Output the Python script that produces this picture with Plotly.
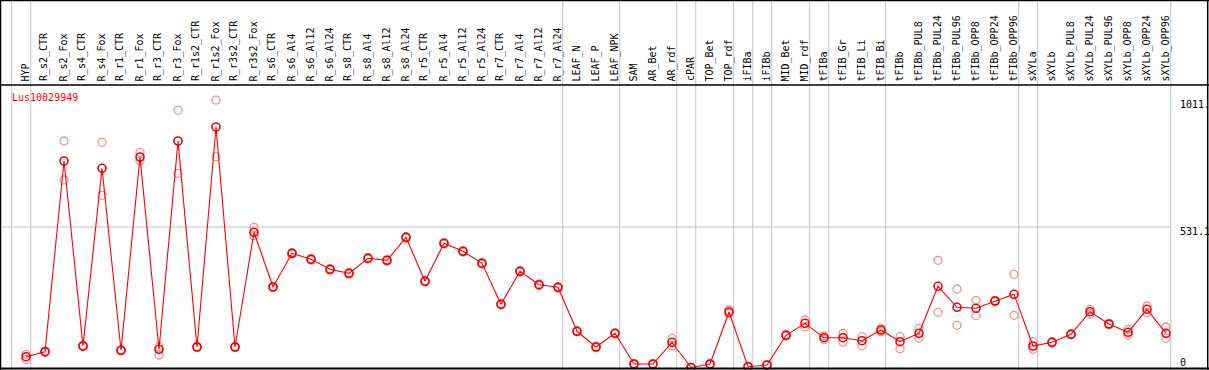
import plotly.graph_objects as go

gene_name = "Lus10029949"

samples = ["HYP", "R_s2_CTR", "R_s2_Fox", "R_s4_CTR", "R_s4_Fox", "R_r1_CTR", "R_r1_Fox",
           "R_r3_CTR", "R_r3_Fox", "R_r1s2_CTR", "R_r1s2_Fox", "R_r3s2_CTR", "R_r3s2_Fox",
           "R_s6_CTR", "R_s6_Al4", "R_s6_Al12", "R_s6_Al24", "R_s8_CTR", "R_s8_Al4", "R_s8_Al12",
           "R_s8_Al24", "R_r5_CTR", "R_r5_Al4", "R_r5_Al12", "R_r5_Al24", "R_r7_CTR", "R_r7_Al4",
           "R_r7_Al12", "R_r7_Al24", "LEAF_N", "LEAF_P", "LEAF_NPK", "SAM", "AR_Bet", "AR_rdf",
           "cPAR", "TOP_Bet", "TOP_rdf", "iFIBa", "iFIBb", "MID_Bet", "MID_rdf", "tFIBa",
           "tFIB_Gr", "tFIB_Li", "tFIB_Bi", "tFIBb", "tFIBb_PUL8", "tFIBb_PUL24", "tFIBb_PUL96",
           "tFIBb_OPP8", "tFIBb_OPP24", "tFIBb_OPP96", "sXYLa", "sXYLb", "sXYLb_PUL8",
           "sXYLb_PUL24", "sXYLb_PUL96", "sXYLb_OPP8", "sXYLb_OPP24", "sXYLb_OPP96"]

mean_values = [40.8, 59.7, 780.7, 81.3, 753.1, 65.0, 795.8, 68.8, 856.3, 77.5, 909.3, 77.5, 511.2,
               304.3, 431.8, 409.1, 371.3, 356.1, 412.9, 405.3, 492.2, 325.9, 469.6, 439.3, 394.0,
               238.9, 363.7, 313.0, 303.2, 136.9, 77.5, 129.3, 13.2, 13.2, 95.3, 0.0, 13.2, 209.8,
               3.0, 9.5, 121.7, 167.1, 112.7, 112.7, 101.3, 141.8, 97.5, 129.3, 307.0, 227.6,
               223.8, 251.4, 276.7, 81.3, 95.3, 125.5, 211.0, 164.5, 133.1, 220.0, 129.3]

rep1_values = [49.9, 57.0, 856.3, 79.0, 851.4, 63.0, 813.6, 78.6, 972.4, 75.0, 1011.0, 75.0, 530.1,
               302.0, 429.0, 406.0, 368.0, 353.0, 410.0, 402.0, 489.0, 323.0, 467.0, 436.0, 391.0,
               236.0, 361.0, 310.0, 300.0, 135.0, 75.0, 127.0, 11.0, 11.0, 110.4, 0.0, 11.0, 217.4,
               2.0, 8.0, 119.0, 179.6, 119.0, 129.3, 116.4, 148.2, 116.4, 148.2, 405.3, 296.8,
               254.1, 249.0, 352.4, 97.5, 93.0, 123.0, 220.0, 162.0, 144.4, 232.5, 153.1]

rep2_values = [31.0, 62.0, 708.9, 84.0, 651.0, 67.0, 781.9, 47.3, 734.2, 80.0, 797.0, 80.0, 498.3,
               307.0, 434.0, 412.0, 374.0, 359.0, 416.0, 408.0, 495.0, 329.0, 472.0, 442.0, 397.0,
               242.0, 366.0, 316.0, 306.0, 139.0, 80.0, 131.0, 15.0, 15.0, 81.3, 0.0, 15.0, 204.9,
               4.0, 11.0, 124.0, 154.3, 106.0, 96.0, 82.4, 135.4, 71.1, 110.4, 208.7, 159.5,
               195.8, 254.0, 197.4, 68.8, 98.0, 128.0, 202.3, 167.0, 122.9, 207.2, 110.4]

# index of last sample in each group (separator drawn after it); -1 = before first
group_ends = [-1, 0, 28, 31, 34, 35, 37, 38, 39, 41, 42, 45, 52, 53, 60]

axis_tick_values = [0, 531.1, 1011]
axis_tick_labels = ["0", "531.1", "1011."]
grid_values = [531.1]

W, H = 1209, 370
HEADER_PX = 85
X0_PX, DX_PX = 26, 19          # pixel of first sample, spacing
Y0_PX, SY = 367.5, 0.2645      # pixel of value 0, px per unit

x_idx = list(range(len(samples)))
x_range = [-X0_PX / DX_PX, (W - X0_PX) / DX_PX]
y_range = [(Y0_PX - H) / SY, Y0_PX / SY]

MONO = "DejaVu Sans Mono"

fig = go.Figure()

# replicates
rep_x = x_idx + x_idx
rep_y = rep1_values + rep2_values
fig.add_trace(go.Scatter(
    x=rep_x, y=rep_y, mode="markers",
    marker=dict(symbol="circle-open", size=8, color="#f09090", line=dict(width=1.3)),
    hoverinfo="skip", showlegend=False))

# mean line + markers
fig.add_trace(go.Scatter(
    x=x_idx, y=mean_values, mode="lines+markers",
    line=dict(color="#ff0000", width=1.1),
    marker=dict(symbol="circle-open", size=8, color="#f00000", line=dict(width=1.6)),
    text=samples, showlegend=False))

shapes = []
# gray group separators (full height)
for k in group_ends:
    xs = k + 0.25
    shapes.append(dict(type="line", xref="x", yref="paper", x0=xs, x1=xs, y0=0, y1=1,
                       line=dict(color="#c4c4c4", width=1), layer="below"))
# horizontal grid lines
x_right = 60.25
for gv in grid_values:
    shapes.append(dict(type="line", xref="x", yref="y", x0=x_range[0], x1=x_right, y0=gv, y1=gv,
                       line=dict(color="#c4c4c4", width=1), layer="below"))
# header separator
hy = 1 - HEADER_PX / H
shapes.append(dict(type="line", xref="paper", yref="paper", x0=0, x1=1, y0=hy, y1=hy,
                   line=dict(color="black", width=1.5)))
# outer border
shapes.append(dict(type="line", xref="paper", yref="paper", x0=0, x1=1, y0=1 - 0.5 / H, y1=1 - 0.5 / H,
                   line=dict(color="black", width=1.5)))
shapes.append(dict(type="line", xref="paper", yref="paper", x0=0, x1=1, y0=1.5 / H, y1=1.5 / H,
                   line=dict(color="black", width=2)))
shapes.append(dict(type="line", xref="paper", yref="paper", x0=0.5 / W, x1=0.5 / W, y0=0, y1=1,
                   line=dict(color="black", width=1.5)))
shapes.append(dict(type="line", xref="paper", yref="paper", x0=1207.7 / W, x1=1207.7 / W, y0=0, y1=1,
                   line=dict(color="black", width=1.5)))

annotations = []
for i, s in enumerate(samples):
    annotations.append(dict(x=i - 0.05, y=1 - 83.5 / H, xref="x", yref="paper", text=s,
                            textangle=-90, showarrow=False, xanchor="center", yanchor="bottom",
                            font=dict(family=MONO, size=10, color="black")))

annotations.append(dict(x=9.5 / W, y=1 - 97.5 / H, xref="paper", yref="paper", text=gene_name,
                        showarrow=False, xanchor="left", yanchor="middle",
                        font=dict(family=MONO, size=10, color="#ff0000")))

label_offsets = [-5.5, 4.5, 4.5]
for v, t, off in zip(axis_tick_values, axis_tick_labels, label_offsets):
    ypx = Y0_PX - SY * v + off
    annotations.append(dict(x=1178 / W, y=1 - ypx / H, xref="paper", yref="paper", text=t,
                            showarrow=False, xanchor="left", yanchor="middle",
                            font=dict(family=MONO, size=10, color="black")))

fig.update_layout(
    width=W, height=H,
    margin=dict(l=0, r=0, t=0, b=0, pad=0),
    paper_bgcolor="white", plot_bgcolor="white",
    xaxis=dict(range=x_range, visible=False, fixedrange=True),
    yaxis=dict(range=y_range, visible=False, fixedrange=True),
    shapes=shapes, annotations=annotations,
    showlegend=False,
)

fig.write_html("out.html", config={"displayModeBar": False},
               post_script="document.body.style.margin='0';document.body.style.padding='0';")
